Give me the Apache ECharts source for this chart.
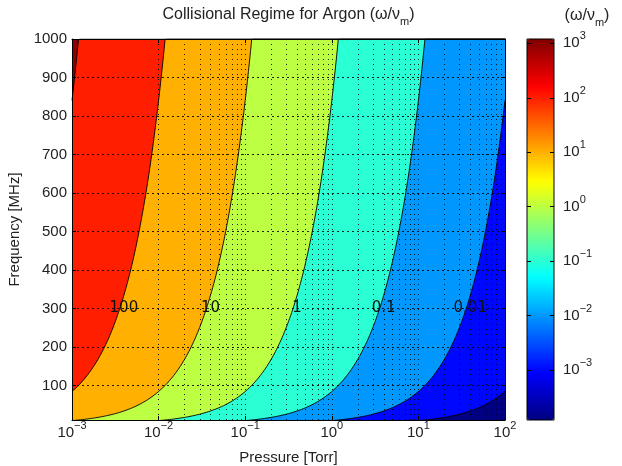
<!DOCTYPE html>
<html><head><meta charset="utf-8">
<script src="https://cdn.jsdelivr.net/npm/echarts@6/dist/echarts.min.js"></script>
<style>html,body{margin:0;padding:0;background:#fff}#c{width:622px;height:466px}</style>
</head><body><div id="c"></div>
<script>
// ---------- data ----------
// contour levels of omega/nu_m (ratio is proportional to frequency / pressure)
const contourLevels = [0.001, 0.01, 0.1, 1, 10, 100, 1000];
const contourLabels = ['', '0.01', '0.1', '1', '10', '100', ''];
// pressure (Torr) at which each contour crosses 1000 MHz
const pressureAt1000MHz = [1190, 119, 11.9, 1.19, 0.119, 0.0119, 0.00119];
const labelFrequency = 300;               // MHz row where inline labels sit
const xTicks = [1e-3, 1e-2, 1e-1, 1, 10, 100];
const xMinorMultipliers = [2, 3, 4, 5, 6, 7, 8, 9];
const yTicks = [100, 200, 300, 400, 500, 600, 700, 800, 900, 1000];
const yRange = [10, 1000];
const colorbarTicks = [-3, -2, -1, 0, 1, 2, 3];   // log10 of omega/nu_m
const colorRange = [-3.92, 3.08];                  // log10 data extent

// ---------- helpers ----------
const FONT = '"Liberation Sans", Arial, Helvetica, sans-serif';
const TXT = '#222';
function clamp01(v){ return Math.max(0, Math.min(1, v)); }
function jet(t){
  t = clamp01(t);
  const r = clamp01(1.5 - Math.abs(4*t - 3));
  const g = clamp01(1.5 - Math.abs(4*t - 2));
  const b = clamp01(1.5 - Math.abs(4*t - 1));
  const h = v => Math.round(v*255).toString(16).padStart(2,'0');
  return '#' + h(r) + h(g) + h(b);
}
const jetStops = [0,1,2,3,4,5,6,7,8].map(i => jet(i/8));
function levelColor(level){
  return jet((Math.log10(level) - colorRange[0]) / (colorRange[1] - colorRange[0]));
}
function expLabel(e){
  return '{b|10}{s|' + String(e).replace('-', '\u2212') + '}';
}
const richExp = {
  b: {fontSize: 15, fontFamily: FONT, color: TXT, lineHeight: 16},
  s: {fontSize: 11, fontFamily: FONT, color: TXT, lineHeight: 12, padding: [0,0,14,0]}
};

const logMin = Math.log10(xTicks[0]), logMax = Math.log10(xTicks[xTicks.length-1]);
const N = 400;
function contourData(p1000){
  const pts = [];
  for (let i = 0; i <= N; i++){
    const p = Math.pow(10, logMin + (logMax - logMin) * i / N);
    let f = 1000 * p / p1000;
    if (f > yRange[1]) f = yRange[1];
    pts.push([p, f]);
  }
  return pts;
}

// grid line positions
const gridX = [];
for (let k = 0; k < xTicks.length - 1; k++){
  if (k > 0) gridX.push(xTicks[k]);
  xMinorMultipliers.forEach(m => gridX.push(xTicks[k] * m));
}
const gridY = yTicks.slice(0, -1);

// ---------- series ----------
const series = [];
contourLevels.forEach((lv, i) => {
  const s = {
    type: 'line',
    xAxisIndex: 0, yAxisIndex: 0,
    data: contourData(pressureAt1000MHz[i]),
    showSymbol: false, symbol: 'none', smooth: false, clip: true,
    lineStyle: {color: '#000', width: 0.9},
    areaStyle: {color: levelColor(lv), opacity: 1, origin: 'end'},
    z: 2, silent: true
  };
  if (contourLabels[i]){
    s.markPoint = {
      symbol: 'rect', symbolSize: 1, silent: true,
      itemStyle: {color: 'rgba(0,0,0,0)'},
      label: {show: true, position: 'inside', formatter: '{b}', color: '#111',
              fontSize: 15, fontFamily: '"DejaVu Sans", sans-serif', offset: [4, 0]},
      data: [{name: contourLabels[i], coord: [pressureAt1000MHz[i] * labelFrequency / 1000, labelFrequency]}]
    };
  }
  series.push(s);
});
const dotV = {color: '#000', width: 1, type: [1, 4], opacity: 0.85};
const dotH = {color: '#000', width: 1, type: [2, 3], opacity: 0.85};
series.push({
  type: 'line', xAxisIndex: 0, yAxisIndex: 0, data: [], z: 5, silent: true,
  markLine: {
    silent: true, symbol: ['none','none'], label: {show: false}, animation: false,
    lineStyle: dotV,
    emphasis: {disabled: true},
    data: gridX.map(v => ({xAxis: v, lineStyle: dotV})).concat(gridY.map(v => ({yAxis: v, lineStyle: dotH})))
  }
});
series.push({type: 'scatter', xAxisIndex: 2, yAxisIndex: 2, data: []});
const dummyIndex = series.length - 1;

const plot = {left: 72, top: 39, width: 433, height: 381};
const cbar = {left: 527, top: 39, width: 27, height: 381};

const option = {
  animation: false,
  backgroundColor: '#fff',
  grid: [
    {left: plot.left, top: plot.top, width: plot.width, height: plot.height, outerBoundsMode: 'none', containLabel: false,
     show: true, backgroundColor: levelColor(Math.pow(10, colorRange[0])), borderWidth: 0},
    {left: cbar.left, top: cbar.top, width: cbar.width, height: cbar.height, outerBoundsMode: 'none', containLabel: false,
     show: true, backgroundColor: 'transparent', borderColor: '#000', borderWidth: 1, z: 10}
  ],
  visualMap: {
    type: 'continuous', seriesIndex: dummyIndex,
    min: colorRange[0], max: colorRange[1],
    inRange: {color: jetStops},
    orient: 'vertical', calculable: false, hoverLink: false,
    left: cbar.left - 5, top: cbar.top - 5, padding: 5,
    itemWidth: cbar.width, itemHeight: cbar.height, z: 4
  },
  xAxis: [
    {type: 'log', logBase: 10, gridIndex: 0, min: xTicks[0], max: xTicks[xTicks.length-1],
     position: 'bottom', z: 10,
     axisLine: {show: true, lineStyle: {color: '#000', width: 1}},
     axisTick: {show: true, inside: true, length: 4, customValues: xTicks, lineStyle: {color: '#000'}},
     axisLabel: {customValues: xTicks, margin: 5, formatter: v => expLabel(Math.round(Math.log10(v))), rich: richExp},
     splitLine: {show: false}, minorTick: {show: false},
     name: 'Pressure [Torr]', nameLocation: 'middle', nameGap: 28,
     nameTextStyle: {fontSize: 15, fontFamily: FONT, color: TXT}},
    {type: 'log', logBase: 10, gridIndex: 0, min: xTicks[0], max: xTicks[xTicks.length-1],
     position: 'top', z: 10,
     axisLine: {show: true, lineStyle: {color: '#000', width: 1}},
     axisTick: {show: true, inside: true, length: 4, customValues: xTicks, lineStyle: {color: '#000'}},
     axisLabel: {show: false}, splitLine: {show: false}},
    {type: 'value', gridIndex: 1, show: false, min: 0, max: 1}
  ],
  yAxis: [
    {type: 'value', gridIndex: 0, min: yRange[0], max: yRange[1], position: 'left', z: 10,
     axisLine: {show: true, lineStyle: {color: '#000', width: 1}},
     axisTick: {show: true, inside: true, length: 4, customValues: yTicks, lineStyle: {color: '#000'}},
     axisLabel: {customValues: yTicks, margin: 5, fontSize: 15, fontFamily: FONT, color: TXT, formatter: v => String(v)},
     splitLine: {show: false},
     name: 'Frequency [MHz]', nameLocation: 'middle', nameGap: 40, nameRotate: 90,
     nameTextStyle: {fontSize: 15, fontFamily: FONT, color: TXT}},
    {type: 'value', gridIndex: 0, min: yRange[0], max: yRange[1], position: 'right', z: 10,
     axisLine: {show: true, lineStyle: {color: '#000', width: 1}},
     axisTick: {show: true, inside: true, length: 4, customValues: yTicks, lineStyle: {color: '#000'}},
     axisLabel: {show: false}, splitLine: {show: false}},
    {type: 'value', gridIndex: 1, min: colorRange[0], max: colorRange[1], position: 'left', z: 12,
     axisLine: {show: false},
     axisTick: {show: true, inside: true, length: 4, customValues: colorbarTicks, lineStyle: {color: '#000'}},
     axisLabel: {show: false}, splitLine: {show: false}},
    {type: 'value', gridIndex: 1, min: colorRange[0], max: colorRange[1], position: 'right', z: 12,
     axisLine: {show: false},
     axisTick: {show: true, inside: true, length: 4, customValues: colorbarTicks, lineStyle: {color: '#000'}},
     axisLabel: {customValues: colorbarTicks, margin: 9, align: 'left',
                 formatter: v => expLabel(Math.round(v)), rich: richExp},
     splitLine: {show: false}}
  ],
  graphic: [
    {type: 'text', x: plot.left + plot.width/2, y: 15, z: 20,
     style: {text: '{a|Collisional Regime for Argon (\u03c9/\u03bd}{s|m}{a|)}', align: 'center', verticalAlign: 'middle',
             rich: {a: {fontSize: 16, fontFamily: FONT, fill: TXT, lineHeight: 18},
                    s: {fontSize: 11, fontFamily: FONT, fill: TXT, lineHeight: 12, padding: [14,0,0,0]}}}},
    {type: 'text', x: 587, y: 16, z: 20,
     style: {text: '{a|(\u03c9/\u03bd}{s|m}{a|)}', align: 'center', verticalAlign: 'middle',
             rich: {a: {fontSize: 16, fontFamily: FONT, fill: TXT, lineHeight: 18},
                    s: {fontSize: 11, fontFamily: FONT, fill: TXT, lineHeight: 12, padding: [14,0,0,0]}}}}
  ],
  series: series
};
const chart = echarts.init(document.getElementById('c'), null, {renderer: 'canvas'});
chart.setOption(option);
</script></body></html>
